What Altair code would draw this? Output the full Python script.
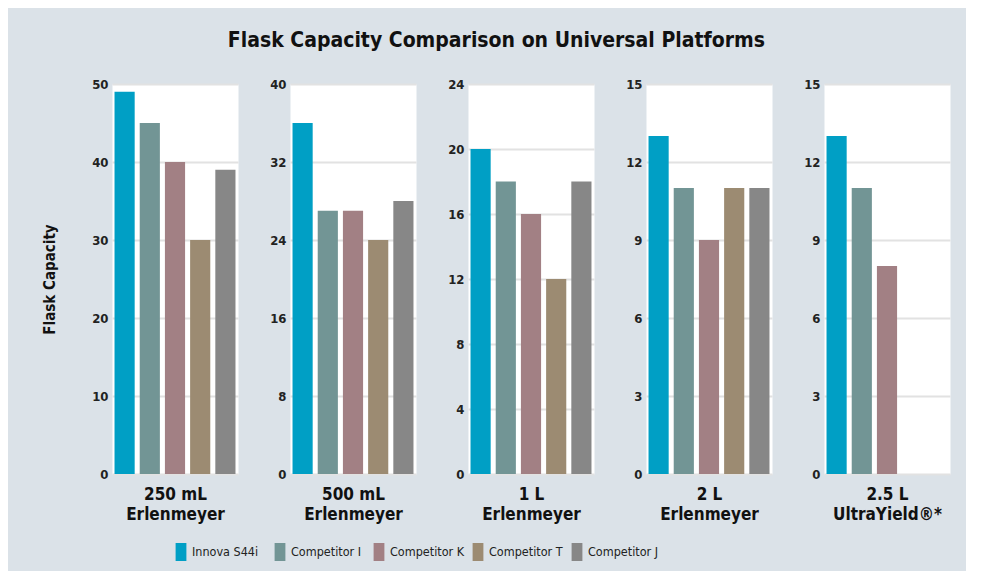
import altair as alt
import pandas as pd

brands = ["Innova S44i", "Competitor I", "Competitor K", "Competitor T", "Competitor J"]
colors = ["#009fc5", "#729595", "#a28084", "#9c8b72", "#878787"]

flask_titles = [
    ["250 mL", "Erlenmeyer"],
    ["500 mL", "Erlenmeyer"],
    ["1 L", "Erlenmeyer"],
    ["2 L", "Erlenmeyer"],
    ["2.5 L", "UltraYield®*"],
]
flask_keys = ["250 mL", "500 mL", "1 L", "2 L", "2.5 L"]

vals_250 = [49, 45, 40, 30, 39]
vals_500 = [36, 27, 27, 24, 28]
vals_1l = [20, 18, 16, 12, 18]
vals_2l = [13, 11, 9, 11, 11]
vals_25l = [13, 11, 8]

panel_values = [vals_250, vals_500, vals_1l, vals_2l, vals_25l]
y_max = [50, 40, 24, 15, 15]
y_ticks = [
    [0, 10, 20, 30, 40, 50],
    [0, 8, 16, 24, 32, 40],
    [0, 4, 8, 12, 16, 20, 24],
    [0, 3, 6, 9, 12, 15],
    [0, 3, 6, 9, 12, 15],
]

rows = []
for key, vals in zip(flask_keys, panel_values):
    for b, v in zip(brands, vals):
        rows.append({"flask": key, "brand": b, "capacity": v})
df = pd.DataFrame(rows)

FONT = "Liberation Sans Narrow, DejaVu Sans Condensed, Arial Narrow, sans-serif"

panels = []
for i, key in enumerate(flask_keys):
    yaxis_kwargs = dict(
        values=y_ticks[i],
        grid=True,
        gridColor="#e2e2e2",
        gridWidth=2,
        domain=False,
        ticks=False,
        labelPadding=4,
        labelFont=FONT,
        labelFontSize=13,
        labelFontWeight="bold",
        labelColor="#222222",
    )
    if i == 0:
        yaxis_kwargs.update(
            title="Flask Capacity",
            titleFont=FONT,
            titleFontSize=15,
            titleFontWeight="bold",
            titleColor="#111111",
            titlePadding=34,
        )
    else:
        yaxis_kwargs.update(title=None)
    p = (
        alt.Chart(df)
        .transform_filter(alt.datum.flask == key)
        .mark_bar()
        .encode(
            x=alt.X(
                "brand:N",
                sort=brands,
                scale=alt.Scale(domain=brands, paddingInner=0.2, paddingOuter=0.1),
                axis=alt.Axis(
                    labels=False,
                    ticks=False,
                    domain=False,
                    title=flask_titles[i],
                    titleFont=FONT,
                    titleFontSize=17,
                    titleFontWeight="bold",
                    titleColor="#111111",
                    titlePadding=12,
                    titleLineHeight=20,
                ),
            ),
            y=alt.Y(
                "capacity:Q",
                scale=alt.Scale(domain=[0, y_max[i]], nice=False),
                axis=alt.Axis(**yaxis_kwargs),
            ),
            color=alt.Color(
                "brand:N",
                sort=brands,
                scale=alt.Scale(domain=brands, range=colors),
                legend=alt.Legend(
                    title=None,
                    orient="none",
                    legendX=60,
                    legendY=459,
                    direction="horizontal",
                    gridAlign="all",
                    symbolType="M-0.6,-1H0.6V1H-0.6Z",
                    symbolSize=324,
                    symbolStrokeWidth=0,
                    labelFont=FONT,
                    labelFontSize=12.5,
                    labelColor="#222222",
                    labelOffset=2,
                    columnPadding=4,
                ),
            ),
        )
        .properties(width=126, height=390)
    )
    panels.append(p)

chart = (
    alt.hconcat(*panels, spacing=30)
    .properties(
        title=alt.TitleParams(
            "Flask Capacity Comparison on Universal Platforms",
            font=FONT,
            fontSize=21,
            fontWeight="bold",
            color="#111111",
            anchor="middle",
            offset=27,
        ),
        background="#dbe2e8",
        padding={"left": 34, "top": 21, "right": 15, "bottom": 10},
    )
    .configure_view(fill="white", stroke="transparent")
)

chart.save("out.html", embed_options={"renderer": "svg", "actions": False})
